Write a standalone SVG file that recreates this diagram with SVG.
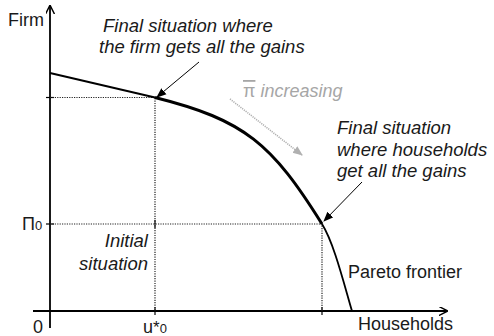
<svg xmlns="http://www.w3.org/2000/svg" width="494" height="336" viewBox="0 0 494 336">
<defs>
<style>
.lbl{font-family:"Liberation Sans",Arial,sans-serif;font-size:18px;fill:#1a1a1a}
.it{font-style:italic;font-size:18.5px}
.grey{fill:#a6a6a6}
.axis{stroke:#000;stroke-width:1.8;fill:none}
.dot{stroke:#222;stroke-width:1.2;stroke-dasharray:1.2 1.2;fill:none}
.tick{stroke:#000;stroke-width:1.2}
.ptr{stroke:#000;stroke-width:1;fill:none}
</style>
<marker id="ah" viewBox="0 0 10 10" refX="9" refY="5" markerWidth="9" markerHeight="9" markerUnits="userSpaceOnUse" orient="auto">
<path d="M0,0 L10,5 L0,10" fill="none" stroke="#000" stroke-width="1.6"/>
</marker>
<marker id="ahs" viewBox="0 0 10 10" refX="9" refY="5" markerWidth="10" markerHeight="10" markerUnits="userSpaceOnUse" orient="auto">
<path d="M0,1 L10,5 L0,9 z" fill="#000"/>
</marker>
<marker id="ahg" viewBox="0 0 10 10" refX="9" refY="5" markerWidth="10" markerHeight="10" markerUnits="userSpaceOnUse" orient="auto">
<path d="M0,1 L10,5 L0,9 z" fill="#b0b0b0"/>
</marker>
</defs>
<rect width="494" height="336" fill="#fff"/>
<g id="axes">
<line class="axis" x1="50" y1="328" x2="50" y2="6" marker-end="url(#ah)"/>
<line class="axis" x1="33" y1="311" x2="447" y2="311" marker-end="url(#ah)"/>
<line class="tick" x1="46" y1="97.5" x2="54" y2="97.5"/>
<line class="tick" x1="46" y1="224" x2="54" y2="224"/>
<line class="tick" x1="155" y1="307" x2="155" y2="315"/>
<line class="tick" x1="322" y1="307" x2="322" y2="315"/>
<line class="tick" x1="155" y1="220" x2="155" y2="228"/>
</g>
<g id="guides">
<path class="dot" d="M50,97.5 H155 V311"/>
<path class="dot" d="M50,224 H322 V311"/>
</g>
<g id="frontier">
<path d="M50,73 L155,97.5" stroke="#000" stroke-width="1.8" fill="none"/>
<path d="M155,97.5 C245,120 272,144 322,224" stroke="#000" stroke-width="3" fill="none"/>
<path d="M322,224 C334,243 344,284 352,311" stroke="#000" stroke-width="1.8" fill="none"/>
</g>
<g id="connectors">
<line class="ptr" x1="199" y1="62" x2="157" y2="97" marker-end="url(#ahs)"/>
<line class="ptr" x1="362" y1="182" x2="324" y2="221" marker-end="url(#ahs)"/>
<line x1="230" y1="99" x2="302" y2="155" stroke="#b0b0b0" stroke-width="1.6" stroke-dasharray="1.2 1" marker-end="url(#ahg)"/>
</g>
<g id="labels">
<text class="lbl" x="8" y="26">Firm</text>
<text class="lbl" x="22" y="230">Π<tspan font-size="13">0</tspan></text>
<text class="lbl" x="33" y="333">0</text>
<text class="lbl" x="143" y="333">u<tspan font-size="17">*</tspan><tspan font-size="13">0</tspan></text>
<text class="lbl" x="358" y="330">Households</text>
<text class="lbl" x="348" y="278">Pareto frontier</text>
<text class="lbl it" x="103" y="32">Final situation where</text>
<text class="lbl it" x="99" y="53">the firm gets all the gains</text>
<text class="lbl it" text-anchor="end" x="148" y="247">Initial</text>
<text class="lbl it" text-anchor="end" x="148" y="270">situation</text>
<text class="lbl it" x="337" y="134">Final situation</text>
<text class="lbl it" x="337" y="156">where households</text>
<text class="lbl it" x="337" y="177">get all the gains</text>
<text class="lbl grey" x="243" y="97"><tspan text-decoration="overline">π</tspan><tspan font-style="italic"> increasing</tspan></text>
</g>
</svg>
